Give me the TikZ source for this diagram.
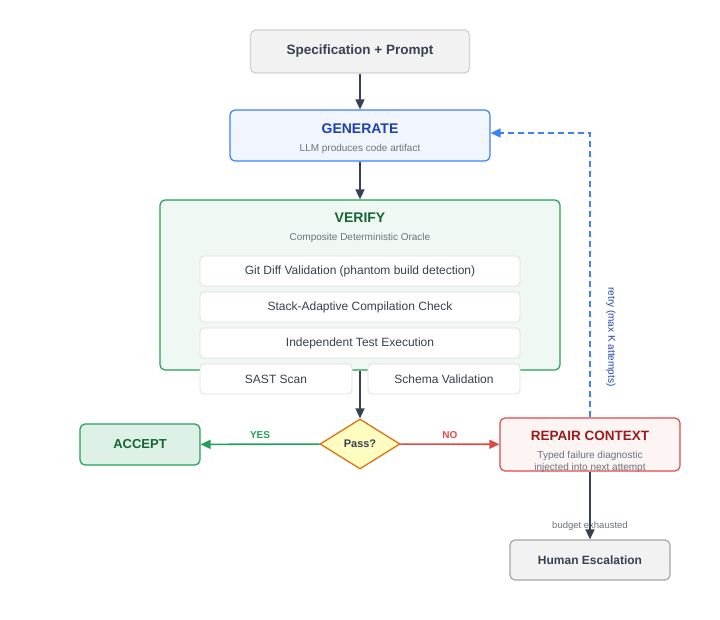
\documentclass[tikz,border=0pt]{standalone}
\usepackage{fontspec}
\setmainfont{Liberation Sans}
\usetikzlibrary{shapes.geometric,arrows.meta}
\definecolor{dk}{HTML}{374151}
\definecolor{gr}{HTML}{6B7280}
\definecolor{bl}{HTML}{3B82F6}
\definecolor{blt}{HTML}{1E40AF}
\definecolor{grn}{HTML}{22A05A}
\definecolor{grt}{HTML}{166534}
\definecolor{rd}{HTML}{DC4A4A}
\definecolor{rdt}{HTML}{991B1B}
\begin{document}
\begin{tikzpicture}[x=1pt,y=-1pt,
 box/.style={draw,rounded corners=5pt,line width=1.2pt,inner sep=0pt},
 sub/.style={draw=gray!25,fill=white,rounded corners=4pt,line width=0.8pt,minimum height=30pt,font=\fontsize{12}{14}\selectfont,text=dk,inner sep=0pt},
 arr/.style={-{Triangle[length=10pt,width=9pt]},line width=1.6pt,draw=dk}]
\useasboundingbox (0,0) rectangle (720,620);
\node[box,draw=gray!35,fill=gray!10,minimum width=219pt,minimum height=43pt,font=\bfseries\fontsize{13.5}{15}\selectfont,text=dk] (spec) at (360,51.5) {Specification + Prompt};
\node[box,draw=bl,fill=bl!7,minimum width=260pt,minimum height=51pt] (gen) at (360,135.5) {};
\node[font=\bfseries\fontsize{14}{16}\selectfont,text=blt] (gent) at (360,129) {GENERATE};
\node[font=\fontsize{10}{12}\selectfont,text=gr] (gens) at (360,149) {LLM produces code artifact};
\node[box,draw=grn,fill=grn!7,minimum width=400pt,minimum height=170pt] (ver) at (360,285) {};
\node[font=\bfseries\fontsize{14}{16}\selectfont,text=grt] (vert) at (360,218) {VERIFY};
\node[font=\fontsize{10}{12}\selectfont,text=gr] (vers) at (360,238) {Composite Deterministic Oracle};
\node[sub,minimum width=320pt] (git) at (360,271) {Git Diff Validation (phantom build detection)};
\node[sub,minimum width=320pt] (stk) at (360,307) {Stack-Adaptive Compilation Check};
\node[sub,minimum width=320pt] (ind) at (360,343) {Independent Test Execution};
\node[sub,minimum width=152pt] (sast) at (276,379) {SAST Scan};
\node[sub,minimum width=152pt] (sch) at (444,379) {Schema Validation};
\node[diamond,draw=orange!85!black,fill=yellow!25,line width=1.2pt,minimum width=80pt,minimum height=50pt,inner sep=0pt,aspect=1.6,font=\bfseries\fontsize{11}{13}\selectfont,text=dk] (pass) at (360,444) {Pass?};
\node[box,draw=grn,fill=grn!15,minimum width=120pt,minimum height=41pt,font=\bfseries\fontsize{13}{15}\selectfont,text=grt] (acc) at (140,444.5) {ACCEPT};
\node[box,draw=rd,fill=rd!6,minimum width=180pt,minimum height=53pt] (rep) at (590,444.5) {};
\node[font=\bfseries\fontsize{13.5}{15}\selectfont,text=rdt] (rept) at (590,436) {REPAIR CONTEXT};
\node[font=\fontsize{10}{11.5}\selectfont,text=gr,align=center] (reps) at (590,462) {Typed failure diagnostic\\injected into next attempt};
\node[box,draw=gray!70,fill=gray!10,minimum width=160pt,minimum height=40pt,font=\bfseries\fontsize{12}{14}\selectfont,text=dk] (hum) at (590,560) {Human Escalation};
\draw[arr] (spec) -- (gen);
\draw[arr] (gen) -- (ver);
\draw[arr] (ver.south) -- (pass.north);
\draw[arr,draw=grn] (pass) -- node[above=1pt,font=\bfseries\fontsize{10}{12}\selectfont,text=grn,pos=0.5]{YES} (acc);
\draw[arr,draw=rd] (pass) -- node[above=1pt,font=\bfseries\fontsize{10}{12}\selectfont,text=rd]{NO} (rep);
\node[font=\fontsize{9.5}{11}\selectfont,text=gr] (bud) at (590,526) {budget exhausted};
\draw[arr] (rep) -- (hum);
\coordinate (c1) at (590,133);
\draw[dash pattern=on 6pt off 4pt,line width=1.3pt,draw=bl,-{Triangle[length=10pt,width=9pt]}] (rep.north) -- (c1) -- (gen.east|-c1);
\node[rotate=-90,font=\fontsize{10}{12}\selectfont,text=blt] (rl) at (611,337) {retry (max K attempts)};
\end{tikzpicture}
\end{document}
